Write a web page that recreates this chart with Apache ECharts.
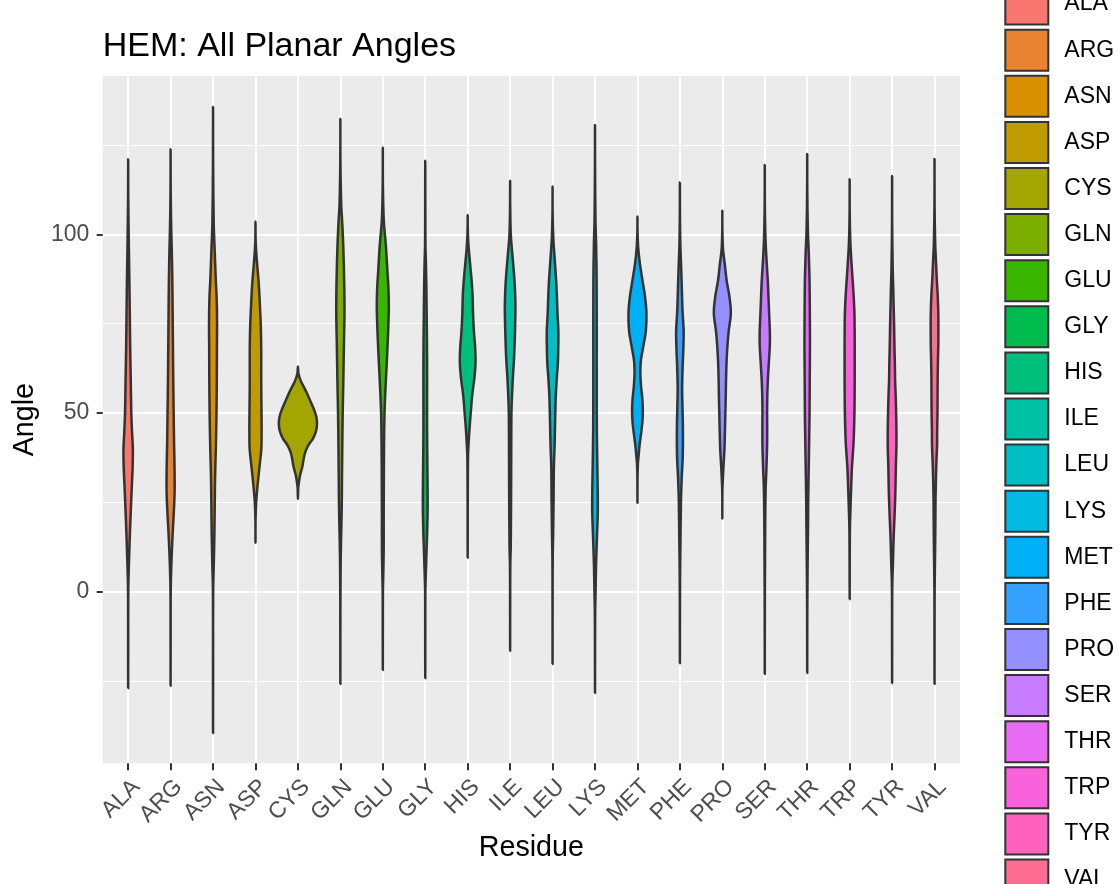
<!DOCTYPE html>
<html>
<head>
<meta charset="utf-8">
<script src="https://cdn.jsdelivr.net/npm/echarts@6/dist/echarts.min.js"></script>
<style>
  html, body { margin: 0; padding: 0; background: #ffffff; }
  #chart { width: 1120px; height: 884px; }
</style>
</head>
<body>
<div id="chart"></div>
<script>
// Residue categories and their fill colours (ggplot hue palette, 20 levels)
const residues = ['ALA','ARG','ASN','ASP','CYS','GLN','GLU','GLY','HIS','ILE',
                  'LEU','LYS','MET','PHE','PRO','SER','THR','TRP','TYR','VAL'];
const fillColors = ['#F8766D','#EA8331','#D89000','#C09B00','#A3A500','#7CAE00','#39B600','#00BB4E','#00BF7D','#00C1A3',
                    '#00BFC4','#00BAE0','#00B0F6','#35A2FF','#9590FF','#C77CFF','#E76BF3','#FA62DB','#FF62BC','#FF6C91'];

// Angle axis ticks
const angleTicks = [0, 50, 100];
const angleMinorTicks = [-25, 25, 75, 125];

// Violin profiles: angle levels (degrees) and relative density (100 = widest violin)
const angleALA   = [-27, -15, 0, 7, 16, 25, 30, 35, 40, 45, 50, 60, 68, 78, 87, 95, 110, 121];
const densityALA = [0, 0.3, 0.6, 3.5, 9, 15.5, 19.5, 23.5, 24.5, 20, 16.5, 13.3, 10.7, 8.5, 6.4, 4, 0.5, 0];

const angleARG   = [-26.3, -10, 0, 7, 16, 22, 28, 35, 42, 50, 60, 69, 78, 87, 95, 101, 112, 123.8];
const densityARG = [0, 0.3, 0.6, 3.5, 10.5, 16.5, 21, 20.5, 18, 16, 13.7, 12.2, 10.7, 9, 6.4, 3.5, 0.5, 0];

const angleASN   = [-39.5, -20, 0, 8, 16, 25, 32, 40, 50, 60, 68, 75, 82, 87, 95, 103, 120, 135.6];
const densityASN = [0, 0.3, 0.6, 4, 7, 9, 10.7, 14.5, 18, 19.7, 20.2, 21, 19, 14.5, 9, 3.5, 0.5, 0];

const angleASP   = [13.7, 20, 25, 28, 32, 35, 40, 45, 50, 55, 60, 68, 74, 78, 83, 87, 92.8, 98, 103.6];
const densityASP = [0, 0.4, 3.5, 8, 15, 21, 30.5, 32, 31.5, 30.5, 30, 30, 28, 25, 20.5, 16, 7, 1, 0];

const angleCYS   = [26, 29, 31, 33, 35, 37, 39, 41, 43, 45, 47, 49, 51, 53, 55, 57, 59, 61, 63];
const densityCYS = [0, 1.5, 6, 13, 23, 29.5, 38, 55, 80, 95, 100, 96, 84, 68, 52, 34, 15, 3, 0];

const angleGLN   = [-25.8, -10, 0, 10, 18, 25, 32, 40, 50, 59, 69, 78, 87, 97, 104, 108, 120, 132.3];
const densityGLN = [0, 0.3, 0.6, 2, 5, 7.5, 8.5, 10, 12.2, 15.5, 18.5, 21.5, 20, 15, 9, 4.5, 0.5, 0];

const angleGLU   = [-21.9, -10, 0, 5, 12, 20, 30, 40, 50, 59, 65, 70, 76, 80, 85, 90, 97, 104, 114, 124.3];
const densityGLU = [0, 0.3, 0.6, 2.5, 4.7, 4.7, 5.3, 6.4, 9, 15.9, 21.5, 25.8, 30, 31.5, 29.5, 23.8, 15.9, 5, 0.5, 0];

const angleGLY   = [-24.2, -10, 0, 4, 9, 16, 22, 26, 35, 45, 55, 65, 75, 85, 92, 97, 108, 120.6];
const densityGLY = [0, 0.3, 0.6, 2.5, 5.3, 9.7, 12.2, 12.7, 11.2, 9.7, 9.7, 9.7, 8, 5.9, 3.5, 1, 0.4, 0];

const angleHIS   = [9.5, 20, 30, 38, 42, 46, 50, 55, 60, 64, 68, 73, 78, 83, 87, 92, 97.5, 102, 105.4];
const densityHIS = [0, 0.3, 0.6, 2, 5.3, 10, 15.9, 23.7, 35.5, 41, 39.5, 32.4, 28, 25.5, 20.7, 12.2, 3.5, 0.4, 0];

const angleILE   = [-16.5, 0, 8, 12, 20, 30, 40, 50, 55, 60, 65, 70, 75, 80, 85, 90, 95, 100, 108, 115];
const densityILE = [0, 0.3, 1, 3, 4.3, 5.3, 5.9, 6.9, 10, 14.4, 20.2, 23.9, 26.5, 27.7, 25, 18.7, 10.7, 3.5, 0.4, 0];

const angleLEU   = [-20.2, 0, 10, 16, 26, 35, 41, 46, 50, 55, 60, 64, 68, 73, 78, 83, 87, 93, 99.4, 106, 113.4];
const densityLEU = [0, 0.3, 1, 3, 5.3, 6.9, 10.7, 12.7, 14.4, 17, 22.3, 27.7, 29.7, 30.3, 25.5, 22.3, 18.7, 11.2, 3.5, 0.4, 0];

const angleLYS   = [-28.3, -15, -5, 0, 7, 16, 22, 28, 35, 45, 55, 70, 87, 97, 104, 118, 130.6];
const densityLYS = [0, 0.3, 1, 3, 5.3, 10.7, 14.4, 14.4, 12.2, 9.7, 9, 9, 8.5, 5.9, 2.5, 0.4, 0];

const angleMET   = [24.9, 32, 36, 38, 41, 45, 48, 51, 54, 57, 60, 62.5, 65, 68.6, 73, 78, 82.6, 87, 92, 96.6, 101, 105];
const densityMET = [0, 0.4, 2.5, 5.9, 11.2, 20.7, 26.5, 28, 25.5, 19.7, 15.9, 15.4, 18.7, 30.3, 44, 47, 39.5, 26.5, 12.2, 3.5, 0.4, 0];

const anglePHE   = [-20, -5, 5, 14.5, 20, 26, 32, 37, 42, 47, 52, 57, 63, 68, 73, 78, 83, 87, 92, 97, 105, 114.5];
const densityPHE = [0, 0.3, 1, 3, 4.3, 5.9, 9.7, 14.4, 15.9, 15.4, 13.3, 11.7, 14.4, 18, 19.7, 14.4, 11.2, 9, 5.9, 2.5, 0.4, 0];

const anglePRO   = [20.5, 28, 33, 36, 40, 45, 50, 55, 60, 65, 69, 73, 78, 82.6, 87, 92, 95.6, 101, 106.6];
const densityPRO = [0, 0.4, 4, 7, 11.2, 13.7, 15.9, 18, 19.7, 22.7, 27, 33.4, 44.5, 37, 22.7, 12.2, 4, 0.4, 0];

const angleSER   = [-23, -10, 0, 10, 20, 28.5, 35, 41, 46, 50, 55, 59, 64, 69, 73, 78, 83, 87, 93, 99.4, 109, 119.4];
const densitySER = [0, 0.3, 0.6, 1.5, 2.5, 4.5, 9, 12.2, 12.7, 12.2, 13.3, 15.9, 21.2, 26.5, 26.5, 22.7, 19, 15.9, 9, 3.5, 0.4, 0];

const angleTHR   = [-22.7, -10, 0, 12.6, 20, 26, 35, 44, 50, 60, 69, 78, 87, 95, 101, 112, 122.5];
const densityTHR = [0, 0.3, 1, 3, 4.5, 5.3, 8, 10.7, 12.2, 13.3, 14.4, 13.7, 12.2, 8, 3.5, 0.4, 0];

const angleTRP   = [-2.1, 5, 12, 18, 22, 26, 31, 35, 41, 45, 50, 55, 60, 65, 69, 74, 78, 83, 87, 92, 98, 106, 115.4];
const densityTRP = [0, 0.3, 0.6, 1.5, 3.5, 5.9, 9, 12.2, 19.7, 22.7, 25, 26, 26.5, 26.5, 26.5, 26, 25, 20.7, 15.9, 9.7, 3.5, 0.4, 0];

const angleTYR   = [-25.5, -10, 0, 4.2, 7, 12, 16.4, 21, 25.7, 30, 35, 40.6, 45, 50, 55, 59, 64, 69, 74, 78, 84, 91, 103, 116.3];
const densityTYR = [0, 0.3, 0.6, 2, 4, 6.4, 9, 12.7, 15.9, 18, 19.7, 22.7, 22.7, 21.2, 18.7, 15.9, 14.4, 12.2, 10.7, 9, 6.4, 3, 0.4, 0];

const angleVAL   = [-25.8, -10, 0, 11.7, 20, 26, 35, 41, 45, 50, 55, 60, 65, 69, 74, 78, 83, 87, 92, 97.5, 108, 121.1];
const densityVAL = [0, 0.3, 0.6, 3, 4.5, 5.3, 9, 13.3, 13.7, 15.4, 15.9, 16.5, 18, 19.7, 20.2, 19.7, 16.5, 12.2, 8, 3.5, 0.4, 0];

const profiles = {
  ALA: [angleALA, densityALA], ARG: [angleARG, densityARG], ASN: [angleASN, densityASN],
  ASP: [angleASP, densityASP], CYS: [angleCYS, densityCYS], GLN: [angleGLN, densityGLN],
  GLU: [angleGLU, densityGLU], GLY: [angleGLY, densityGLY], HIS: [angleHIS, densityHIS],
  ILE: [angleILE, densityILE], LEU: [angleLEU, densityLEU], LYS: [angleLYS, densityLYS],
  MET: [angleMET, densityMET], PHE: [anglePHE, densityPHE], PRO: [anglePRO, densityPRO],
  SER: [angleSER, densitySER], THR: [angleTHR, densityTHR], TRP: [angleTRP, densityTRP],
  TYR: [angleTYR, densityTYR], VAL: [angleVAL, densityVAL]
};

const FONT = "'Liberation Sans', Arial, Helvetica, sans-serif";
const MAX_HALF_WIDTH = 0.45;   // half of the 0.9 category-width violin

function violinRenderer(name) {
  const [angles, dens] = profiles[name];
  return function (params, api) {
    const x = api.value(0);
    const right = [], left = [];
    for (let k = 0; k < angles.length; k++) {
      const hw = dens[k] / 100 * MAX_HALF_WIDTH;
      right.push(api.coord([x + hw, angles[k]]));
      if (k > 0 && k < angles.length - 1) left.push(api.coord([x - hw, angles[k]]));
    }
    const points = right.concat(left.reverse());
    return {
      type: 'polygon',
      shape: { points: points, smooth: 0.35 },
      style: { fill: api.visual('color'), stroke: '#333333', lineWidth: 2.5, lineJoin: 'round' }
    };
  };
}

const series = residues.map((name, i) => {
  const angles = profiles[name][0];
  return {
    name: name,
    type: 'custom',
    coordinateSystem: 'cartesian2d',
    xAxisIndex: 0,
    yAxisIndex: 0,
    encode: { x: 0, y: [1, 2] },
    data: [[i + 1, angles[0], angles[angles.length - 1]]],
    renderItem: violinRenderer(name),
    z: 3
  };
});

const chart = echarts.init(document.getElementById('chart'), null, { renderer: 'canvas' });
chart.setOption({
  animation: false,
  backgroundColor: '#ffffff',
  color: fillColors,
  textStyle: { fontFamily: FONT },
  title: {
    text: 'HEM: All Planar Angles',
    left: 102.7, top: 30, padding: 0,
    textStyle: { fontSize: 34, fontWeight: 'normal', color: '#000000', fontFamily: FONT }
  },
  grid: {
    left: 102.7, right: 160, top: 76, bottom: 120.7,
    show: true, backgroundColor: '#EBEBEB', borderWidth: 0
  },
  legend: {
    orient: 'vertical', left: 1004.3, top: -17.4, height: 1000, padding: 0,
    icon: 'rect', itemWidth: 43, itemHeight: 41, itemGap: 3.1,
    itemStyle: { borderColor: '#333333', borderWidth: 2 },
    textStyle: { fontSize: 23, color: '#000000', fontFamily: FONT, padding: [0, 0, 0, 11] },
    data: residues
  },
  xAxis: {
    type: 'value', min: 0.4, max: 20.6,
    name: 'Residue', nameLocation: 'middle', nameGap: 70,
    nameTextStyle: { fontSize: 28.7, color: '#000000', fontFamily: FONT },
    axisLine: { show: false, onZero: false },
    axisTick: { show: true, length: 7, lineStyle: { color: '#333333', width: 2 },
                customValues: residues.map((_, i) => i + 1) },
    axisLabel: {
      customValues: residues.map((_, i) => i + 1),
      formatter: v => residues[Math.round(v) - 1],
      rotate: 45, align: 'right', verticalAlign: 'top', margin: 12,
      fontSize: 23, color: '#4D4D4D', fontFamily: FONT
    },
    splitLine: { show: true, lineStyle: { color: '#ffffff', width: 2 } }
  },
  yAxis: [{
    type: 'value', min: -48, max: 144.3,
    name: 'Angle', nameLocation: 'middle', nameGap: 62, nameRotate: 90,
    nameTextStyle: { fontSize: 28.7, color: '#000000', fontFamily: FONT },
    axisLine: { show: false, onZero: false },
    axisTick: { show: true, length: 6, lineStyle: { color: '#333333', width: 2 }, customValues: angleTicks },
    axisLabel: { customValues: angleTicks, margin: 13.4, fontSize: 23, color: '#4D4D4D', fontFamily: FONT },
    splitLine: { show: true, lineStyle: { color: '#ffffff', width: 2 } }
  }, {
    type: 'value', min: -48, max: 144.3, position: 'left',
    axisLine: { show: false, onZero: false },
    axisTick: { show: false, customValues: angleMinorTicks },
    axisLabel: { show: false, customValues: angleMinorTicks },
    splitLine: { show: true, lineStyle: { color: '#ffffff', width: 1 } }
  }],
  series: series
});
</script>
</body>
</html>
